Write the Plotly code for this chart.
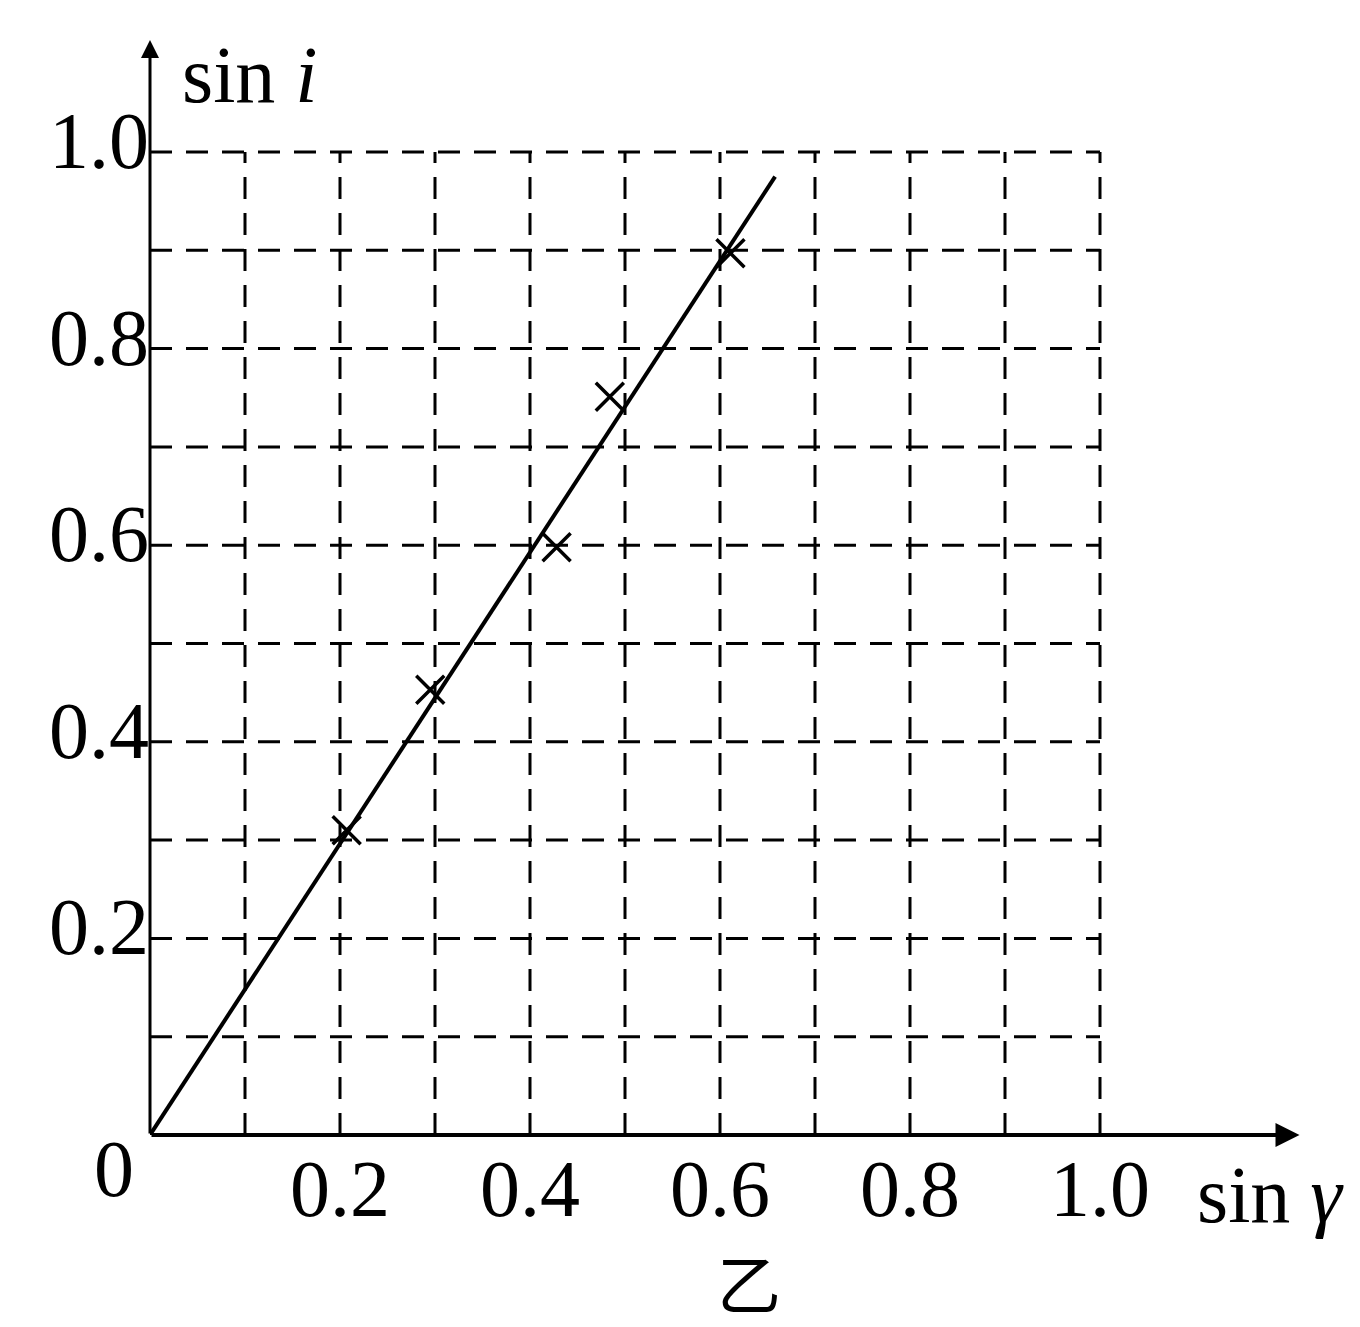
import plotly.graph_objects as go

# data
pts_sin_gamma = [0.207, 0.295, 0.428, 0.484, 0.611]
pts_sin_i = [0.310, 0.453, 0.598, 0.751, 0.897]
fit_sin_gamma = [0.0, 0.658]
fit_sin_i = [0.0, 0.975]
grid_vals = [0.1, 0.2, 0.3, 0.4, 0.5, 0.6, 0.7, 0.8, 0.9, 1.0]
tick_vals = [0.2, 0.4, 0.6, 0.8, 1.0]
tick_text = ["0.2", "0.4", "0.6", "0.8", "1.0"]

SERIF = "Liberation Serif, Times New Roman, serif"
FS = 80

fig = go.Figure()

# dashed grid (only up to 1.0)
for v in grid_vals:
    fig.add_shape(type="line", xref="x", yref="y", x0=v, x1=v, y0=0, y1=1.0,
                  line=dict(color="black", width=3, dash="22px,14px"), layer="below")
    fig.add_shape(type="line", xref="x", yref="y", x0=0, x1=1.0, y0=v, y1=v,
                  line=dict(color="black", width=3, dash="22px,14px"), layer="below")

fig.add_trace(go.Scatter(x=fit_sin_gamma, y=fit_sin_i, mode="lines",
                         line=dict(color="black", width=4), showlegend=False))
fig.add_trace(go.Scatter(x=pts_sin_gamma, y=pts_sin_i, mode="markers",
                         marker=dict(symbol="x-thin", size=28, line=dict(color="black", width=3.5)),
                         showlegend=False))

X_END = 1.21
Y_END = 1.114

# axes with arrows
fig.add_annotation(x=X_END, y=0, ax=0, ay=0, xref="x", yref="y", axref="x", ayref="y",
                   showarrow=True, arrowhead=2, arrowsize=1.2, arrowwidth=4, arrowcolor="black", text="")
fig.add_annotation(x=0, y=Y_END, ax=0, ay=0, xref="x", yref="y", axref="x", ayref="y",
                   showarrow=True, arrowhead=2, arrowsize=1.2, arrowwidth=3, arrowcolor="black", text="")

fig.add_annotation(x=0, y=0, text="0", showarrow=False, xref="x", yref="y",
                   xanchor="right", yanchor="top", xshift=-14, yshift=12,
                   font=dict(family=SERIF, size=FS, color="black"))
fig.add_annotation(x=0, y=1.078, text="sin <i>i</i>", showarrow=False, xref="x", yref="y",
                   xanchor="left", yanchor="middle", xshift=30,
                   font=dict(family=SERIF, size=FS, color="black"))
fig.add_annotation(x=1.1, y=0, text="sin <i>γ</i>", showarrow=False, xref="x", yref="y",
                   xanchor="left", yanchor="middle", yshift=-60,
                   font=dict(family=SERIF, size=FS, color="black"))
fig.add_annotation(x=0.63, y=0, text="乙", showarrow=False, xref="x", yref="y",
                   xanchor="center", yanchor="top", yshift=-98,
                   font=dict(family="Noto Sans CJK SC", size=64, color="black"))

fig.update_xaxes(range=[0, 1.22], showgrid=False, zeroline=False, showline=False,
                 tickvals=tick_vals, ticktext=tick_text, ticks="", automargin=False,
                 tickfont=dict(family=SERIF, size=FS, color="black"))
fig.update_yaxes(range=[0, 1.12], showgrid=False, zeroline=False, showline=False,
                 tickvals=tick_vals, ticktext=tick_text, ticks="", automargin=False,
                 ticklabelshift=-12,
                 tickfont=dict(family=SERIF, size=FS, color="black"))

fig.update_layout(width=1352, height=1319, plot_bgcolor="white", paper_bgcolor="white",
                  margin=dict(l=142, r=51, t=26, b=192), showlegend=False)

fig.write_html("out.html")
